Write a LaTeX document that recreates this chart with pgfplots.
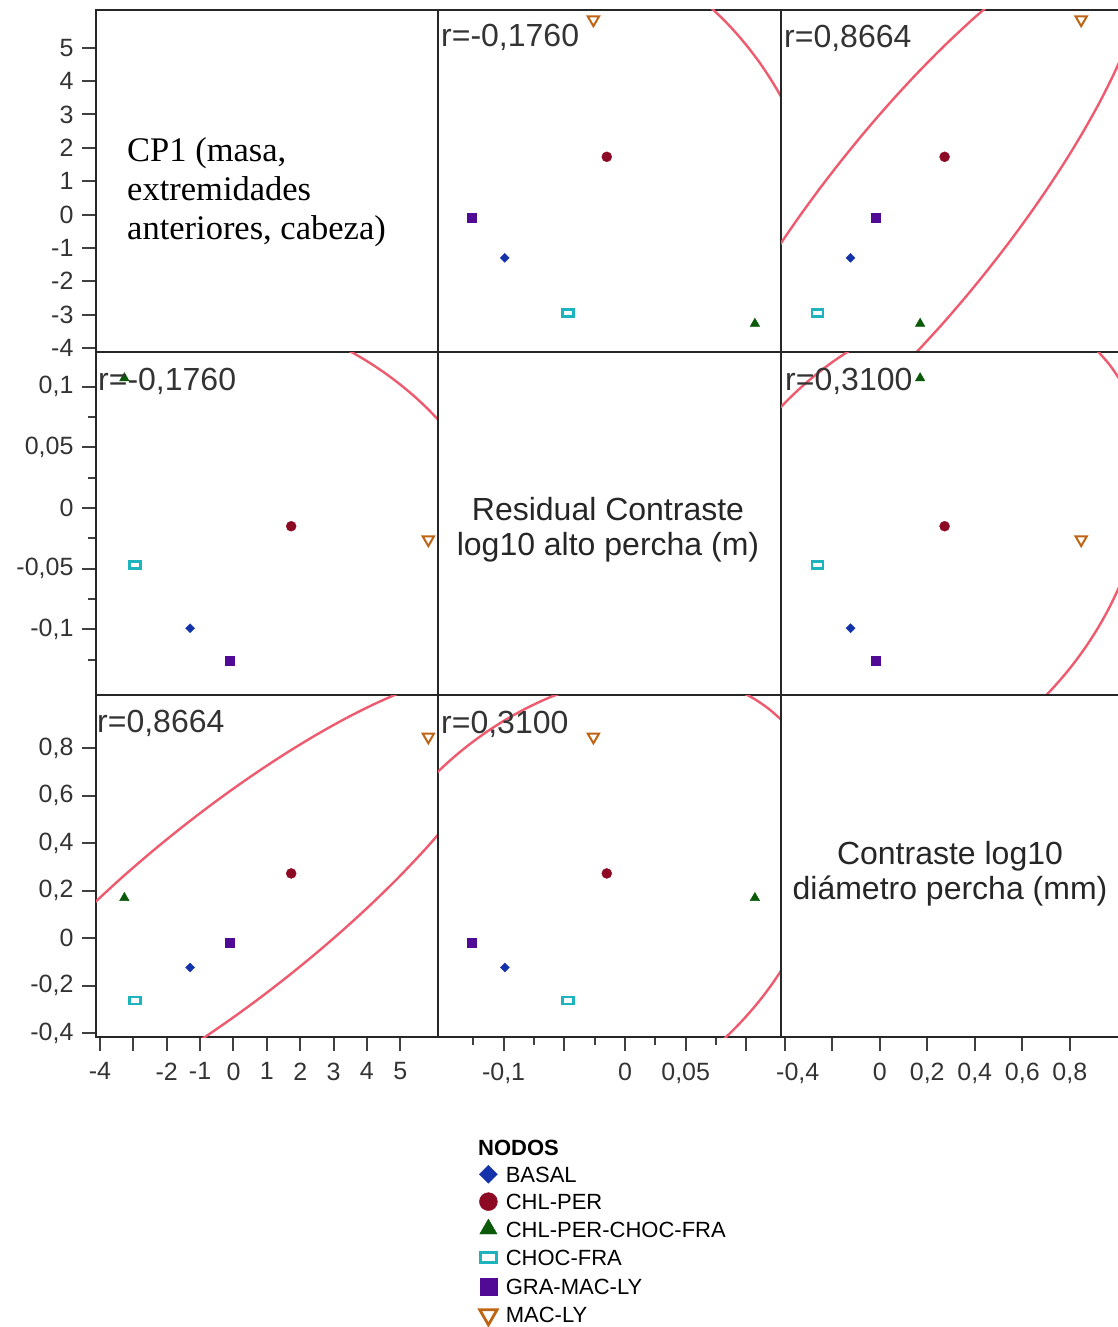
\documentclass[border=0pt]{standalone}
\usepackage{pgfplots}
\pgfplotsset{compat=1.18}
\usepackage{pgfplotstable}
\usepackage{fontspec}
\setmainfont{Liberation Sans}
\newfontfamily\seriffont{Liberation Serif}

\definecolor{cB}{RGB}{20,50,170}
\definecolor{cCP}{RGB}{140,10,35}
\definecolor{cCPCF}{RGB}{10,90,10}
\definecolor{cCF}{RGB}{30,180,190}
\definecolor{cGML}{RGB}{80,10,150}
\definecolor{cML}{RGB}{190,100,20}
\definecolor{cEll}{RGB}{238,90,110}

\pgfdeclareplotmark{diam}{%
  \pgfpathmoveto{\pgfqpoint{0pt}{\pgfplotmarksize}}%
  \pgfpathlineto{\pgfqpoint{\pgfplotmarksize}{0pt}}%
  \pgfpathlineto{\pgfqpoint{0pt}{-\pgfplotmarksize}}%
  \pgfpathlineto{\pgfqpoint{-\pgfplotmarksize}{0pt}}%
  \pgfpathclose\pgfusepathqfillstroke}
\pgfdeclareplotmark{dtri}{%
  \pgfpathmoveto{\pgfqpoint{0pt}{-\pgfplotmarksize}}%
  \pgfpathlineto{\pgfqpoint{0.866\pgfplotmarksize}{0.5\pgfplotmarksize}}%
  \pgfpathlineto{\pgfqpoint{-0.866\pgfplotmarksize}{0.5\pgfplotmarksize}}%
  \pgfpathclose\pgfusepathqstroke}
\pgfdeclareplotmark{rrect}{%
  \pgfsetcornersarced{\pgfqpoint{0.9\pgfplotmarksize}{0.9\pgfplotmarksize}}%
  \pgfpathrectanglecorners{\pgfqpoint{-1.6\pgfplotmarksize}{-\pgfplotmarksize}}{\pgfqpoint{1.6\pgfplotmarksize}{\pgfplotmarksize}}%
  \pgfusepathqstroke}

\pgfplotstableread{
node cp res dia
B    -1.30 -0.099 -0.123
CP    1.73 -0.015  0.273
CPCF -3.27  0.107  0.170
CF   -2.95 -0.047 -0.262
GML  -0.10 -0.126 -0.018
ML    5.84 -0.026  0.848
}\nodos

\pgfplotsset{
  pnl/.style={scale only axis, anchor=north west, clip=true,
    axis line style={line width=2.4pt, black!85},
    xtick=\empty, ytick=\empty,
    tick style={line width=2pt, black!75},
    major tick length=14pt, minor tick length=8pt,
    tick align=outside, xtick pos=bottom, ytick pos=left,
    ticklabel style={font=\fontsize{25}{28}\selectfont, text=black!80},
    xticklabel style={yshift=-8pt}, yticklabel style={xshift=-5pt}},
  colA/.style={xmin=-4.12,xmax=6.13, width=342pt},
  colB/.style={xmin=-0.154,xmax=0.1285, width=343pt},
  colC/.style={xmin=-0.4156,xmax=1.024, width=342pt},
  rowA/.style={ymin=-4.12,ymax=6.13, height=342pt},
  rowB/.style={ymin=-0.154,ymax=0.1285, height=343pt},
  rowC/.style={ymin=-0.4156,ymax=1.024, height=342pt},
  ell/.style={cEll, line width=2.4pt, smooth, mark=none},
  pts/.style={scatter, only marks, scatter src=explicit symbolic,
    scatter/classes={
      B={mark=diam, mark size=4.5pt, draw=cB, fill=cB},
      CP={mark=*, mark size=5pt, draw=cCP, fill=cCP},
      CPCF={mark=triangle*, mark size=5.5pt, draw=cCPCF, fill=cCPCF},
      CF={mark=rrect, mark size=3.4pt, draw=cCF, line width=2.4pt},
      GML={mark=square*, mark size=4.5pt, draw=cGML, fill=cGML},
      ML={mark=dtri, mark size=6.5pt, draw=cML, line width=2pt}}},
  lgi/.style={legend image code/.code={%
    \begin{pgfinterruptboundingbox}\draw[##1] plot coordinates {(9pt,0pt)};\end{pgfinterruptboundingbox}%
    \path (0pt,-9pt) (18pt,9pt);}},
}

\newcommand{\rlab}[3]{\node[anchor=base west, inner sep=0pt, font=\fontsize{32}{36}\selectfont, text=black!80] at (#1pt,-#2pt) {#3};}

\begin{document}
\begin{tikzpicture}
\useasboundingbox (0pt,0pt) rectangle (1118pt,-1327pt);

% ---------------- row 1 ----------------
\begin{axis}[pnl, colA, rowA, at={(96pt,-10pt)},
  ytick={-4,-3,-2,-1,0,1,2,3,4,5}, yticklabels={-4,-3,-2,-1,0,1,2,3,4,5}]
\end{axis}

\begin{axis}[pnl, colB, rowA, at={(438pt,-10pt)}]
\addplot[ell] coordinates {(0.13385,3.165) (0.13149,3.332) (0.12512,3.750) (0.11807,4.167) (0.11025,4.585) (0.1016,5.002) (0.09199,5.420) (0.08125,5.837) (0.06915,6.255)};
\addplot[pts] table[x=res,y=cp,meta=node] {\nodos};
\end{axis}

\begin{axis}[pnl, colC, rowA, at={(781pt,-10pt)}]
\addplot[ell] coordinates {(-0.4906,-1.678) (-0.4144,-0.843) (-0.3333,-0.008) (-0.2474,0.827) (-0.1565,1.662) (-0.0606,2.497) (0.0409,3.332) (0.1487,4.167) (0.2640,5.002) (0.3888,5.837) (0.4982,6.505)};
\addplot[ell] coordinates {(0.0907,-4.601) (0.1473,-4.183) (0.2551,-3.348) (0.3566,-2.513) (0.4525,-1.678) (0.5434,-0.843) (0.6293,-0.008) (0.7104,0.827) (0.7866,1.662) (0.8576,2.497) (0.9231,3.332) (0.9823,4.167) (1.0340,5.002) (1.0762,5.837)};
\addplot[pts] table[x=dia,y=cp,meta=node] {\nodos};
\end{axis}

% ---------------- row 2 ----------------
\begin{axis}[pnl, colA, rowB, at={(96pt,-352pt)},
  ytick={-0.1,-0.05,0,0.05,0.1}, yticklabels={{-0,1},{-0,05},0,{0,05},{0,1}},
  minor ytick={-0.125,-0.075,-0.025,0.025,0.075}]
\addplot[ell] coordinates {(3.165,0.13385) (3.332,0.13149) (3.750,0.12512) (4.167,0.11807) (4.585,0.11025) (5.002,0.1016) (5.420,0.09199) (5.837,0.08125) (6.255,0.06915)};
\addplot[pts] table[x=cp,y=res,meta=node] {\nodos};
\end{axis}

\begin{axis}[pnl, colB, rowB, at={(438pt,-352pt)}]
\end{axis}

\begin{axis}[pnl, colC, rowB, at={(781pt,-352pt)}]
\addplot[ell] coordinates {(-0.4785,0.06952) (-0.4303,0.08021) (-0.3821,0.08996) (-0.3339,0.0989) (-0.2857,0.10711) (-0.2375,0.11465) (-0.1893,0.12157) (-0.1411,0.12792) (-0.0929,0.13372)};
\addplot[ell] coordinates {(0.8998,0.13247) (0.9190,0.12882) (0.9672,0.11803) (1.0154,0.1039) (1.0636,0.08355)};
\addplot[ell] coordinates {(0.6781,-0.15862) (0.7263,-0.14887) (0.7745,-0.13818) (0.8227,-0.12642) (0.8708,-0.11334) (0.9190,-0.0986) (0.9672,-0.08164) (1.0154,-0.06132) (1.0636,-0.0348)};
\addplot[pts] table[x=dia,y=res,meta=node] {\nodos};
\end{axis}

% ---------------- row 3 ----------------
\begin{axis}[pnl, colA, rowC, at={(96pt,-695pt)},
  ytick={-0.4,-0.2,0,0.2,0.4,0.6,0.8}, yticklabels={{-0,4},{-0,2},0,{0,2},{0,4},{0,6},{0,8}},
  xtick={-4,-3,-2,-1,0,1,2,3,4,5}, xticklabels={-4,,-2,-1,0,1,2,3,4,5}]
\addplot[ell] coordinates {(-4.601,0.0907) (-4.183,0.1473) (-3.348,0.2551) (-2.513,0.3566) (-1.678,0.4525) (-0.843,0.5434) (-0.008,0.6293) (0.827,0.7104) (1.662,0.7866) (2.497,0.8576) (3.332,0.9231) (4.167,0.9823) (5.002,1.0340) (5.837,1.0762)};
\addplot[ell] coordinates {(-1.678,-0.4906) (-0.843,-0.4144) (-0.008,-0.3333) (0.827,-0.2474) (1.662,-0.1565) (2.497,-0.0606) (3.332,0.0409) (4.167,0.1487) (5.002,0.2640) (5.837,0.3888) (6.505,0.4982)};
\addplot[pts] table[x=cp,y=dia,meta=node] {\nodos};
\end{axis}

\begin{axis}[pnl, colB, rowC, at={(438pt,-695pt)},
  xtick={-0.1,-0.05,0,0.05,0.1}, xticklabels={{-0,1},,0,{0,05},},
  minor xtick={-0.125,-0.075,-0.025,0.025,0.075},
  legend style={at={(axis description cs:0.1166,-0.3743)}, anchor=north west,
    draw=none, fill=none, inner sep=0pt, outer sep=0pt, row sep=9pt,
    font=\fontsize{22}{26}\selectfont,
    nodes={inner sep=0pt, text height=16pt, text depth=0pt, anchor=west},
    /tikz/every odd column/.append style={column sep=7pt}},
  legend cell align=left]
\addlegendimage{mark=diam, mark size=9pt, draw=cB, fill=cB, lgi}
\addlegendentry{BASAL}
\addlegendimage{mark=*, mark size=9pt, draw=cCP, fill=cCP, lgi}
\addlegendentry{CHL-PER}
\addlegendimage{mark=triangle*, mark size=10pt, draw=cCPCF, fill=cCPCF, lgi}
\addlegendentry{CHL-PER-CHOC-FRA}
\addlegendimage{mark=rrect, mark size=5pt, draw=cCF, line width=2.8pt, lgi}
\addlegendentry{CHOC-FRA}
\addlegendimage{mark=square*, mark size=8.5pt, draw=cGML, fill=cGML, lgi}
\addlegendentry{GRA-MAC-LY}
\addlegendimage{mark=dtri, mark size=10pt, draw=cML, line width=2.8pt, lgi}
\addlegendentry{MAC-LY}
\addplot[ell, forget plot] coordinates {(0.06952,-0.4785) (0.08021,-0.4303) (0.08996,-0.3821) (0.0989,-0.3339) (0.10711,-0.2857) (0.11465,-0.2375) (0.12157,-0.1893) (0.12792,-0.1411) (0.13372,-0.0929)};
\addplot[ell, forget plot] coordinates {(0.13247,0.8998) (0.12882,0.9190) (0.11803,0.9672) (0.1039,1.0154) (0.08355,1.0636)};
\addplot[ell, forget plot] coordinates {(-0.15862,0.6781) (-0.14887,0.7263) (-0.13818,0.7745) (-0.12642,0.8227) (-0.11334,0.8708) (-0.0986,0.9190) (-0.08164,0.9672) (-0.06132,1.0154) (-0.0348,1.0636)};
\addplot[pts, forget plot] table[x=res,y=dia,meta=node] {\nodos};
\end{axis}

\begin{axis}[pnl, colC, rowC, at={(781pt,-695pt)},
  xtick={-0.4,-0.2,0,0.2,0.4,0.6,0.8}, xticklabels={{\hspace{26pt}-0,4},,0,{0,2},{0,4},{0,6},{0,8}}]
\end{axis}

% ---------------- text ----------------
\node[anchor=north west, align=left, inner sep=0pt, font=\seriffont\fontsize{34.5}{39}\selectfont] at (127pt,-137pt) {CP1 (masa,\\extremidades\\anteriores, cabeza)};
\node[align=center, inner sep=0pt, font=\fontsize{32}{35}\selectfont, text=black!85] at (608pt,-530pt) {Residual Contraste\\log10 alto percha (m)};
\node[align=center, inner sep=0pt, font=\fontsize{32}{35}\selectfont, text=black!85] at (950pt,-874pt) {Contraste log10\\diámetro percha (mm)};

\rlab{441}{47}{r=-0,1760}
\rlab{784}{48}{r=0,8664}
\rlab{98}{390}{r=-0,1760}
\rlab{785}{390}{r=0,3100}
\rlab{97}{732}{r=0,8664}
\rlab{441}{733}{r=0,3100}

\node[anchor=west, inner sep=0pt, text height=16pt, text depth=0pt, font=\bfseries\fontsize{22}{26}\selectfont] at (478pt,-1147pt) {NODOS};
\end{tikzpicture}
\end{document}
